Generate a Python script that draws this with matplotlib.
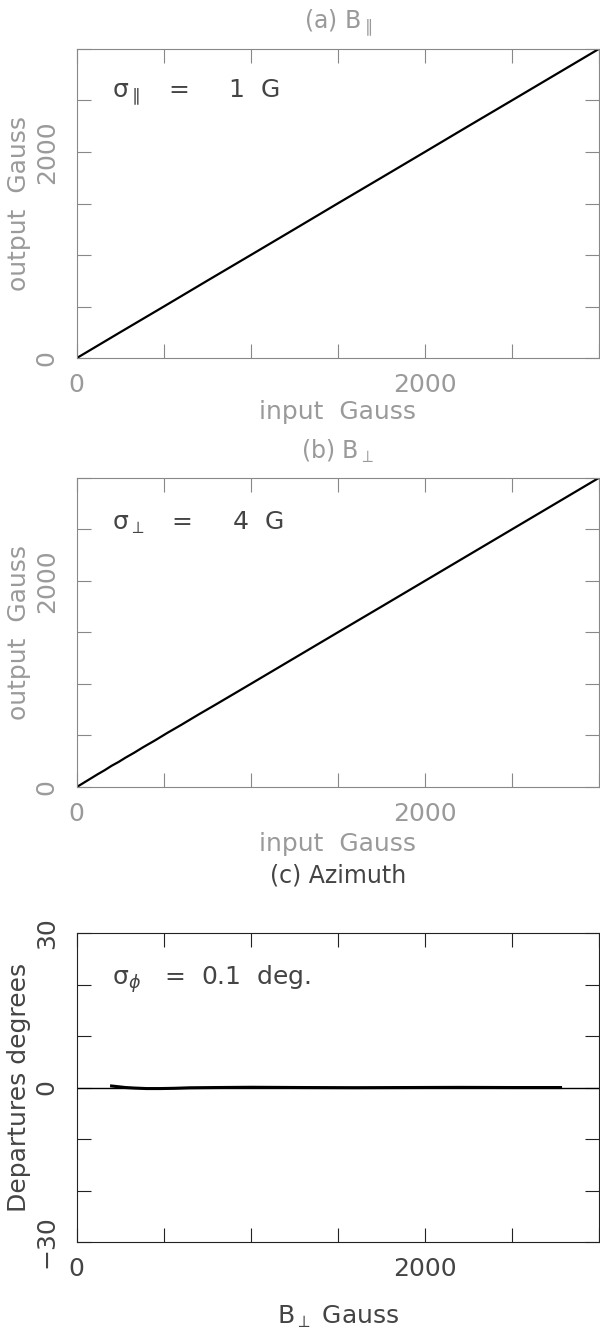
import matplotlib
matplotlib.use("Agg")
import matplotlib.pyplot as plt
from matplotlib.ticker import MultipleLocator

# panel (a): B parallel, input vs output (Gauss)
par_in = [0, 250, 500, 750, 1000, 1250, 1500, 1750, 2000, 2250, 2500, 2750, 3000]
par_out = [0, 251, 500, 751, 1000, 1250, 1501, 1750, 2000, 2251, 2500, 2750, 3000]

# panel (b): B perpendicular, input vs output (Gauss)
perp_in = [0, 60, 120, 160, 200, 240, 280, 330, 380, 450, 520, 600, 700, 800, 1000,
           1250, 1500, 1750, 2000, 2250, 2500, 2750, 3000]
perp_out = [0, 62, 124, 163, 206, 243, 285, 333, 385, 453, 525, 603, 704, 802, 1001,
            1251, 1501, 1750, 2000, 2250, 2500, 2750, 3000]

# panel (c): azimuth departures (degrees) vs B perp
azi_b = [200, 240, 280, 330, 400, 480, 560, 650, 800, 1000, 1300, 1600, 1900, 2200,
         2500, 2780]
azi_dep = [0.3, 0.15, 0.0, -0.1, -0.2, -0.2, -0.15, -0.05, 0.0, 0.05, 0.0, -0.03, 0.0,
           0.03, 0.0, 0.0]

plt.rcParams['font.family'] = ['DejaVu Sans']
plt.rcParams['mathtext.fontset'] = 'dejavusans'

fig = plt.figure(figsize=(6, 13.38), dpi=100)

light = '#9a9a9a'
dark = '#444444'


def style(ax, col, spcol, ymin, ymax, ymin_step, yticks):
    ax.set_xlim(0, 3000)
    ax.set_ylim(ymin, ymax)
    ax.set_xticks([0, 2000])
    ax.xaxis.set_minor_locator(MultipleLocator(500))
    ax.set_yticks(yticks)
    ax.yaxis.set_minor_locator(MultipleLocator(ymin_step))
    ax.tick_params(which='both', direction='in', length=10, width=0.8,
                   top=True, right=True, color=spcol, labelcolor=col,
                   labelsize=18)
    ax.tick_params(axis='x', pad=11)
    ax.tick_params(axis='y', labelrotation=90, pad=13)
    for lab in ax.get_yticklabels():
        lab.set_va('center')
    for s in ax.spines.values():
        s.set_color(spcol)
        s.set_linewidth(0.8)


# (a)
ax1 = fig.add_axes([0.128, 0.7324, 0.87, 0.231])
ax1.plot(par_in, par_out, color='black', lw=1.6)
style(ax1, light, '#888888', 0, 3000, 500, [0, 2000])
ax1.set_title(r'(a) $\mathrm{B}_{\parallel}$', color=light, fontsize=17, pad=14)
ax1.set_xlabel('input  Gauss', color=light, fontsize=18, labelpad=2)
ax1.set_ylabel('output  Gauss', color=light, fontsize=18, labelpad=3)
ax1.text(0.067, 0.86, r'$\mathrm{\sigma}_{\parallel}$   =     1  G', transform=ax1.transAxes,
         fontsize=18, color=dark, va='center')

# (b)
ax2 = fig.add_axes([0.128, 0.4118, 0.87, 0.231])
ax2.plot(perp_in, perp_out, color='black', lw=1.6)
style(ax2, light, '#888888', 0, 3000, 500, [0, 2000])
ax2.set_title(r'(b) $\mathrm{B}_{\perp}$', color=light, fontsize=17, pad=14)
ax2.set_xlabel('input  Gauss', color=light, fontsize=18, labelpad=4)
ax2.set_ylabel('output  Gauss', color=light, fontsize=18, labelpad=3)
ax2.text(0.067, 0.855, r'$\mathrm{\sigma}_{\perp}$   =     4  G', transform=ax2.transAxes,
         fontsize=18, color=dark, va='center')

# (c)
ax3 = fig.add_axes([0.128, 0.0717, 0.87, 0.231])
ax3.axhline(0, color='black', lw=1.0)
ax3.plot(azi_b, azi_dep, color='black', lw=2.2)
style(ax3, dark, '#222222', -30, 30, 10, [-30, 0, 30])
ax3.set_title('(c) Azimuth', color=dark, fontsize=17, pad=36)
ax3.set_xlabel(r'$\mathrm{B}_{\perp}$ Gauss', color=dark, fontsize=18, labelpad=16)
ax3.set_ylabel('Departures degrees', color=dark, fontsize=18, labelpad=3)
ax3.text(0.067, 0.85, r'$\mathrm{\sigma}_{\phi}$   =  0.1  deg.', transform=ax3.transAxes,
         fontsize=18, color=dark, va='center')

fig.savefig('out.png', dpi=100)
